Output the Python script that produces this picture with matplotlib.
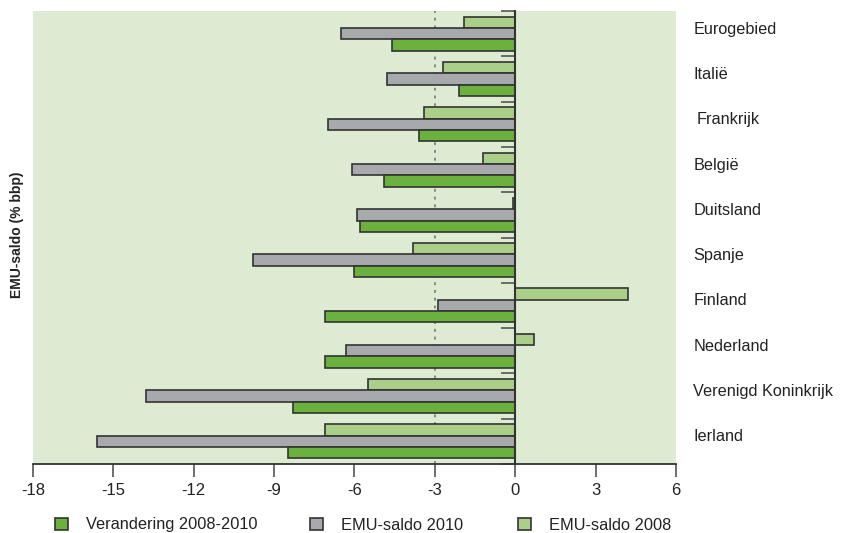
import matplotlib
matplotlib.use('Agg')
import matplotlib.pyplot as plt
import matplotlib.transforms as mtransforms
from matplotlib.patches import Patch
import numpy as np

# Data (EMU-saldo, % bbp)
countries = ['Eurogebied', 'Italië', 'Frankrijk', 'België', 'Duitsland',
             'Spanje', 'Finland', 'Nederland', 'Verenigd Koninkrijk', 'Ierland']
saldo_2008 = [-1.9, -2.7, -3.4, -1.2, -0.1, -3.8, 4.2, 0.7, -5.5, -7.1]
saldo_2010 = [-6.5, -4.8, -7.0, -6.1, -5.9, -9.8, -2.9, -6.3, -13.8, -15.6]
verandering = [-4.6, -2.1, -3.6, -4.9, -5.8, -6.0, -7.1, -7.1, -8.3, -8.5]

xticks = [-18, -15, -12, -9, -6, -3, 0, 3, 6]

# Colours
c_dark = '#6bb13e'
c_grey = '#a8a9ac'
c_light = '#a9cf88'
c_bg = '#deebd3'
c_edge = '#333333'

plt.rcParams['font.family'] = ['Liberation Sans', 'DejaVu Sans']

fig = plt.figure(figsize=(8.45, 5.33), dpi=100)
ax = fig.add_axes([33 / 845, 1 - 464 / 533, (676 - 33) / 845, (464 - 11) / 533])
ax.set_facecolor(c_bg)

y = np.arange(len(countries))
h = 0.25
ax.barh(y - h, saldo_2008, height=h, color=c_light, edgecolor=c_edge, linewidth=1.2, zorder=2)
ax.barh(y, saldo_2010, height=h, color=c_grey, edgecolor=c_edge, linewidth=1.2, zorder=2)
ax.barh(y + h, verandering, height=h, color=c_dark, edgecolor=c_edge, linewidth=1.2, zorder=2)

# dotted reference line at -3
ax.axvline(-3, color='#888888', linestyle=(0, (1.5, 2.5)), linewidth=1.4, zorder=1)

ax.set_xlim(-18, 6)
ax.set_ylim(len(countries) - 0.5, -0.5)

# zero line as the y axis, ticks between groups
ax.spines['left'].set_position(('data', 0))
ax.spines['left'].set_color('#333333')
ax.spines['left'].set_linewidth(1.5)
ax.spines['left'].set_zorder(3)
ax.spines['right'].set_visible(False)
ax.spines['top'].set_visible(False)
ax.spines['bottom'].set_color('#333333')
ax.spines['bottom'].set_linewidth(1.3)
ax.set_yticks(np.arange(-0.5, len(countries), 1.0))
ax.set_yticklabels([])
ax.tick_params(axis='y', direction='out', length=10, width=1.2, color='#555555')

ax.set_xticks(xticks)
ax.set_xticklabels([str(t) for t in xticks], fontsize=12, color='#222222')
ax.tick_params(axis='x', direction='out', length=9, width=1.2, color='#555555', pad=5)

# country labels on the right
trans = mtransforms.blended_transform_factory(ax.transAxes, ax.transData)
for i, name in enumerate(countries):
    dx = 0.005 if name == 'Frankrijk' else 0.0
    ax.text(1.027 + dx, i - 0.10, name, transform=trans, ha='left', va='center',
            fontsize=11.7, color='#222222')

fig.text(17 / 845, 1 - 235 / 533, 'EMU-saldo (% bbp)', rotation=90, ha='center', va='center',
         fontsize=10, fontweight='bold', color='#222222')

# legend, three separate entries
entries = [(c_dark, 'Verandering 2008-2010', 55), (c_grey, 'EMU-saldo 2010', 310),
           (c_light, 'EMU-saldo 2008', 518)]
for col, lab, xpos in entries:
    leg = fig.legend(handles=[Patch(facecolor=col, edgecolor=c_edge, linewidth=1.2)], labels=[lab],
                     loc='center left', bbox_to_anchor=(xpos / 845, 1 - 525 / 533),
                     frameon=False, fontsize=11.8, handlelength=0.8, handleheight=0.8,
                     handletextpad=1.1, borderpad=0, borderaxespad=0)
    for t in leg.get_texts():
        t.set_color('#222222')

fig.savefig('out.png', dpi=100)
